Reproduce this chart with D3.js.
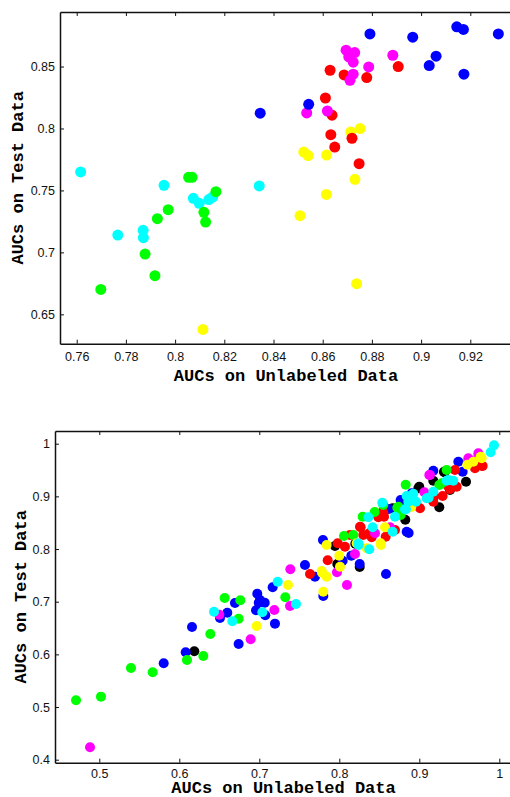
<html>
<style>
  body { margin: 0px; background: #fff; }
</style>
<body>
<svg id="viz"></svg>
</body>
<script src="https://d3js.org/d3.v7.min.js"></script>
<script>
var width = 510, height = 797;

// ---- top panel data (x = AUC on unlabeled, y = AUC on test) ----
var topXTicks = [0.76, 0.78, 0.80, 0.82, 0.84, 0.86, 0.88, 0.90, 0.92];
var topYTicks = [0.65, 0.70, 0.75, 0.80, 0.85];

var topBlue = [[0.8792,0.8763],[0.8966,0.8737],[0.9145,0.8820],[0.9172,0.8799],[0.9314,0.8763],
  [0.9061,0.8583],[0.9033,0.8508],[0.9174,0.8438],[0.8543,0.8195],[0.8346,0.8123]];
var topMagenta = [[0.8695,0.8632],[0.8730,0.8613],[0.8706,0.8578],[0.8724,0.8535],[0.8885,0.8591],
  [0.8787,0.8497],[0.8724,0.8438],[0.8711,0.8389],[0.8535,0.8125],[0.8619,0.8141]];
var topRed = [[0.8630,0.8470],[0.8687,0.8432],[0.8779,0.8411],[0.8907,0.8500],[0.8611,0.8246],
  [0.8638,0.8107],[0.8633,0.7950],[0.8719,0.7921],[0.8649,0.7850],[0.8748,0.7716]];
var topYellow = [[0.8714,0.7972],[0.8752,0.7999],[0.8523,0.7810],[0.8541,0.7781],[0.8616,0.7786],
  [0.8731,0.7590],[0.8615,0.7468],[0.8508,0.7296],[0.8738,0.6747],[0.8113,0.6378]];
var topCyan = [[0.7616,0.7649],[0.7955,0.7541],[0.8342,0.7536],[0.8074,0.7436],[0.8098,0.7396],
  [0.8137,0.7426],[0.8153,0.7447],[0.7767,0.7140],[0.7870,0.7178],[0.7871,0.7119]];
var topGreen = [[0.8055,0.7606],[0.8069,0.7606],[0.8166,0.7490],[0.7972,0.7345],[0.7928,0.7272],
  [0.8117,0.7323],[0.8124,0.7245],[0.7878,0.6986],[0.7918,0.6812],[0.7698,0.6701]];

// ---- bottom panel data ----
var botXTicks = [0.5, 0.6, 0.7, 0.8, 0.9, 1];
var botYTicks = [0.4, 0.5, 0.6, 0.7, 0.8, 0.9, 1];

var botBlack = [[0.6188,0.6058],[0.8255,0.7659],[0.7975,0.7716],[0.7946,0.8058],[0.8667,0.8773],
  [0.8825,0.8557],[0.8988,0.9153],[0.9250,0.8792],[0.9175,0.9298],[0.9313,0.9457],[0.9384,0.9121],
  [0.9584,0.9279],[0.8200,0.8100],[0.9000,0.9184],[0.9309,0.9468]];
var botBlue = [[0.5805,0.5830],[0.6080,0.6040],[0.6159,0.6520],[0.6742,0.6197],[0.7196,0.6583],
  [0.7075,0.6742],[0.6959,0.6837],[0.6993,0.6981],[0.7068,0.6981],[0.6509,0.6690],[0.6600,0.6791],
  [0.6696,0.6976],[0.6975,0.7152],[0.7009,0.7032],[0.7167,0.7273],[0.7571,0.7697],[0.7696,0.7475],
  [0.7800,0.7108],[0.8584,0.7526],[0.8255,0.7716],[0.8042,0.7779],[0.8150,0.7873],[0.7796,0.8172],
  [0.8867,0.8305],[0.8620,0.8760],[0.8775,0.8912],[0.8905,0.9058],[0.9175,0.9487],[0.9542,0.9468],
  [0.9488,0.9658],[0.9609,0.9639],[0.8767,0.8931],[0.8842,0.8329]];
var botRed = [[0.7634,0.7526],[0.7855,0.7786],[0.7980,0.8109],[0.8071,0.8044],[0.8134,0.8267],
  [0.8267,0.8412],[0.8300,0.8267],[0.8405,0.8223],[0.8580,0.8234],[0.8696,0.8361],[0.8488,0.8603],
  [0.8559,0.8614],[0.8542,0.8709],[0.9009,0.8773],[0.9175,0.8899],[0.9292,0.9007],[0.9363,0.9184],
  [0.9446,0.9500],[0.9467,0.9184],[0.9696,0.9533],[0.9780,0.9582],[0.8375,0.8300],[0.9184,0.8994],
  [0.9384,0.9134],[0.9792,0.9577],[0.8551,0.8678],[0.8259,0.8424]];
var botGreen = [[0.4709,0.5128],[0.5021,0.5197],[0.5396,0.5741],[0.5667,0.5660],[0.6096,0.5893],
  [0.6300,0.5969],[0.6388,0.6387],[0.6742,0.6677],[0.6567,0.7071],[0.6763,0.7027],[0.7325,0.7084],
  [0.8059,0.8248],[0.8175,0.8267],[0.8292,0.8614],[0.8442,0.8703],[0.8550,0.8836],[0.8725,0.8785],
  [0.8767,0.8646],[0.8830,0.9222],[0.9250,0.9216],[0.9342,0.9500],[0.9280,0.9248],[0.8738,0.8804]];
var botMagenta = [[0.4884,0.4236],[0.6892,0.6286],[0.7188,0.6843],[0.7384,0.6919],[0.6500,0.6753],
  [0.7388,0.7615],[0.7971,0.7558],[0.8096,0.7317],[0.8196,0.7906],[0.8446,0.8299],[0.8634,0.8412],
  [0.9063,0.9077],[0.9134,0.9406],[0.9613,0.9723],[0.9738,0.9818],[0.9125,0.9406],[0.9738,0.9753]];
var botYellow = [[0.6967,0.6539],[0.7359,0.7317],[0.7800,0.7190],[0.7784,0.7551],[0.7842,0.7475],
  [0.8009,0.7665],[0.8000,0.7873],[0.7842,0.8077],[0.8217,0.8109],[0.8342,0.8014],[0.8521,0.8077],
  [0.8571,0.8412],[0.8900,0.8800],[0.9675,0.9658],[0.9767,0.9753],[0.9600,0.9600],[0.9780,0.9723],
  [0.8517,0.8109],[0.7780,0.7583]];
var botCyan = [[0.6434,0.6810],[0.7038,0.6799],[0.6663,0.6628],[0.7459,0.6957],[0.7230,0.7380],
  [0.8243,0.8077],[0.8375,0.7995],[0.8417,0.8412],[0.8363,0.8603],[0.8667,0.8329],[0.8538,0.8880],
  [0.8696,0.8614],[0.8834,0.8754],[0.8842,0.9007],[0.8959,0.8899],[0.8925,0.9050],[0.9117,0.8975],
  [0.9175,0.9089],[0.9342,0.9298],[0.9425,0.9298],[0.9892,0.9837],[0.9934,0.9970],[0.9363,0.9310],
  [0.9092,0.8963],[0.8863,0.8899],[0.8821,0.8754],[0.8238,0.8109]];

var svg = d3.select("#viz").attr("width", width).attr("height", height);

function drawPanel(p) {
    var x = d3.scaleLinear().domain(p.xDomain).range([p.left, p.right]);
    var y = d3.scaleLinear().domain(p.yDomain).range([p.bottom, p.top]);
    var g = svg.append("g");
    var fmt = d3.format("~g");

    // dots
    p.series.forEach(function(s) {
        g.append("g").selectAll("circle")
            .data(s.values)
            .enter()
            .append("circle")
            .attr("cx", function(d) { return x(d[0]); })
            .attr("cy", function(d) { return y(d[1]); })
            .attr("r", p.r)
            .attr("fill", s.color);
    });

    // axes, ticks pointing inwards like matlab
    var xa = g.append("g").attr("transform", "translate(0," + p.bottom + ")")
        .call(d3.axisBottom(x).tickValues(p.xTicks).tickFormat(fmt)
            .tickSizeInner(-4).tickSizeOuter(0).tickPadding(p.xPad));
    var xt = g.append("g").attr("transform", "translate(0," + p.top + ")")
        .call(d3.axisTop(x).tickValues(p.xTicks).tickFormat("")
            .tickSizeInner(-4).tickSizeOuter(0));
    var ya = g.append("g").attr("transform", "translate(" + p.left + ",0)")
        .call(d3.axisLeft(y).tickValues(p.yTicks).tickFormat(fmt)
            .tickSizeInner(-4).tickSizeOuter(0).tickPadding(5));

    [xa, xt, ya].forEach(function(a) {
        a.select(".domain").attr("stroke", "#111").attr("stroke-width", 1.5);
        a.selectAll(".tick line").attr("stroke", "#111");
        a.selectAll("text")
            .attr("fill", "#111")
            .style("font-family", "'Liberation Sans', Arial, sans-serif")
            .style("font-size", "12.5px");
    });

    g.append("text")
        .attr("x", (p.left + p.right) / 2)
        .attr("y", p.xLabelY)
        .attr("text-anchor", "middle")
        .attr("dominant-baseline", "central")
        .style("font-family", "'Liberation Mono', 'Courier New', monospace")
        .style("font-weight", "bold")
        .style("font-size", "17px")
        .text("AUCs on Unlabeled Data");

    g.append("text")
        .attr("transform", "translate(" + p.yLabelX + "," + ((p.top + p.bottom) / 2) + ") rotate(-90)")
        .attr("text-anchor", "middle")
        .attr("dominant-baseline", "central")
        .style("font-family", "'Liberation Mono', 'Courier New', monospace")
        .style("font-weight", "bold")
        .style("font-size", "17px")
        .text("AUCs on Test Data");
}

drawPanel({
    left: 60, right: 512, top: 12, bottom: 343.7,
    xDomain: [0.75321, 0.93695], yDomain: [0.6263, 0.8940],
    xTicks: topXTicks, yTicks: topYTicks, r: 5.5, xPad: 8,
    xLabelY: 376, yLabelX: 18,
    series: [
        {values: topCyan, color: "#00ffff"},
        {values: topGreen, color: "#00ff00"},
        {values: topYellow, color: "#ffff00"},
        {values: topRed, color: "#ff0000"},
        {values: topMagenta, color: "#ff00ff"},
        {values: topBlue, color: "#0000ff"}
    ]
});

drawPanel({
    left: 55, right: 512, top: 431, bottom: 762.7,
    xDomain: [0.44463, 1.01588], yDomain: [0.3943, 1.0241],
    xTicks: botXTicks, yTicks: botYTicks, r: 5, xPad: 6,
    xLabelY: 788.5, yLabelX: 21,
    series: [
        {values: botBlack, color: "#000000"},
        {values: botBlue, color: "#0000ff"},
        {values: botRed, color: "#ff0000"},
        {values: botGreen, color: "#00ff00"},
        {values: botMagenta, color: "#ff00ff"},
        {values: botYellow, color: "#ffff00"},
        {values: botCyan, color: "#00ffff"}
    ]
});
</script>
</html>
